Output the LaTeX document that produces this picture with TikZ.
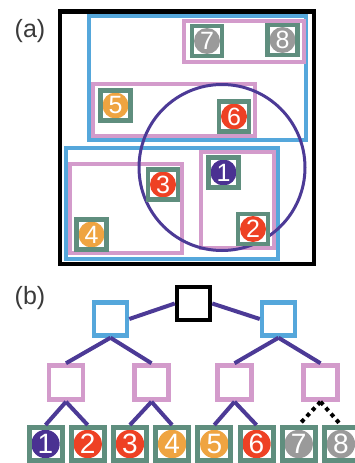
\documentclass[tikz,border=0pt]{standalone}
\usepackage{fontspec}
\setmainfont{Liberation Sans}
\definecolor{tealg}{HTML}{5F8E7E}
\definecolor{cpur}{HTML}{4A3192}
\definecolor{epur}{HTML}{4C3A96}
\definecolor{cred}{HTML}{EE4124}
\definecolor{corange}{HTML}{EFA441}
\definecolor{cgray}{HTML}{9A9A9A}
\definecolor{cblue}{HTML}{55A7DB}
\definecolor{cpink}{HTML}{D39BCB}
\definecolor{labc}{HTML}{3A3A3A}
\tikzset{
  itema/.style={draw=tealg, line width=4.5pt, fill=white, minimum size=30pt, inner sep=0pt,
    text=white, font=\fontsize{25}{25}\selectfont,
    path picture={\fill[#1] (path picture bounding box.center) circle (13pt);}},
  itemb/.style={draw=tealg, line width=5pt, fill=white, minimum size=33pt, inner sep=0pt,
    text=white, font=\fontsize{28}{28}\selectfont,
    path picture={\fill[#1] (path picture bounding box.center) circle (14.2pt);}},
  rootbox/.style={draw=black, line width=4.5pt, fill=white, minimum size=33pt, inner sep=0pt},
  bluebox/.style={draw=cblue, line width=4.5pt, fill=white, minimum size=33pt, inner sep=0pt},
  pinkbox/.style={draw=cpink, line width=4.5pt, fill=white, minimum size=34pt, inner sep=0pt},
  frameA/.style={draw=black, line width=4.5pt},
  blueA/.style={draw=cblue, line width=4.5pt},
  pinkA/.style={draw=cpink, line width=4pt},
  edge/.style={draw=epur, line width=4pt},
  dotedge/.style={draw=black, line width=4pt, dash pattern=on 4pt off 4pt},
  plabel/.style={text=labc, font=\fontsize{25}{25}\selectfont, inner sep=0pt}
}
\begin{document}
\begin{tikzpicture}[x=1pt, y=-1pt]
\useasboundingbox (0,0) rectangle (354,463);
% panel labels
\node[plabel] (la) at (30,31) {(a)};
\node[plabel] (lb) at (30,298) {(b)};
% panel (a) rectangles
\draw[frameA] (60,11.5) rectangle (314,264);
\draw[blueA] (89,16) rectangle (306,140);
\draw[blueA] (66,148) rectangle (278,259);
\draw[pinkA] (184,21) rectangle (304,62);
\draw[pinkA] (93,84) rectangle (255,136);
\draw[pinkA] (70,164) rectangle (182,253);
\draw[pinkA] (201,152) rectangle (274,248);
\draw[draw=epur, line width=3pt] (222,167.5) circle (83);
% panel (a) items
\node[itema=cpur] (a1) at (223.5,172.5) {1};
\node[itema=cred] (a2) at (253,229) {2};
\node[itema=cred] (a3) at (163,184.5) {3};
\node[itema=corange] (a4) at (91.5,234.5) {4};
\node[itema=corange] (a5) at (115.5,105.5) {5};
\node[itema=cred] (a6) at (234,116.5) {6};
\node[itema=cgray] (a7) at (207,41) {7};
\node[itema=cgray] (a8) at (282.5,40) {8};
% panel (b) tree
\node[rootbox] (r) at (193.5,303.5) {};
\node[bluebox] (bl) at (110.5,319) {};
\node[bluebox] (br) at (278.5,319) {};
\node[pinkbox] (p1) at (66,382.5) {};
\node[pinkbox] (p2) at (151.5,382.5) {};
\node[pinkbox] (p3) at (234.5,382.5) {};
\node[pinkbox] (p4) at (320.5,382.5) {};
\node[itemb=cpur] (l1) at (45.5,444) {1};
\node[itemb=cred] (l2) at (87.7,444) {2};
\node[itemb=cred] (l3) at (129.9,444) {3};
\node[itemb=corange] (l4) at (172.1,444) {4};
\node[itemb=corange] (l5) at (214.3,444) {5};
\node[itemb=cred] (l6) at (256.5,444) {6};
\node[itemb=cgray] (l7) at (298.7,444) {7};
\node[itemb=cgray] (l8) at (340.9,444) {8};
% edges
\draw[edge] (r.west) -- (bl.east);
\draw[edge] (r.east) -- (br.west);
\draw[edge] (bl.south) -- (p1.north);
\draw[edge] (bl.south) -- (p2.north);
\draw[edge] (br.south) -- (p3.north);
\draw[edge] (br.south) -- (p4.north);
\draw[edge] (p1.south) -- (l1.north);
\draw[edge] (p1.south) -- (l2.north);
\draw[edge] (p2.south) -- (l3.north);
\draw[edge] (p2.south) -- (l4.north);
\draw[edge] (p3.south) -- (l5.north);
\draw[edge] (p3.south) -- (l6.north);
\draw[dotedge] (p4.south) -- (l7.north);
\draw[dotedge] (p4.south) -- (l8.north);
\end{tikzpicture}
\end{document}
